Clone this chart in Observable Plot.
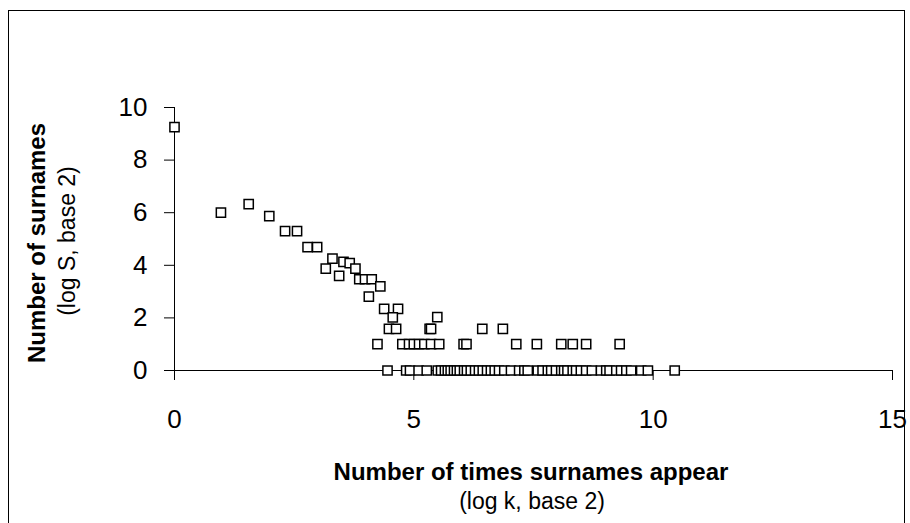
<!DOCTYPE html>
<html>
<head>
<meta charset="utf-8">
<script src="https://cdn.jsdelivr.net/npm/d3@7"></script>
<script src="https://cdn.jsdelivr.net/npm/@observablehq/plot@0.6"></script>
<style>
  html, body { margin: 0; padding: 0; background: #fff; }
  #wrap { position: relative; width: 910px; height: 523px; overflow: hidden; }
  #frame { position: absolute; left: 8px; top: 10px; width: 897px; height: 530px; border: 1px solid #000; box-sizing: border-box; pointer-events: none; }
  #wrap svg { position: absolute; left: 0; top: 0; }
</style>
</head>
<body>
<div id="wrap"><div id="frame"></div></div>
<script>
// Individual points (log2 k, log2 S) with S > 3
const upperLogK = [0, 0.97, 1.55, 1.98, 2.31, 2.56, 2.78, 2.98, 3.16, 3.3, 3.44, 3.53, 3.66, 3.78, 3.86, 3.98, 4.12, 4.06, 4.3, 4.38, 4.67, 4.56, 5.49];
const upperLogS = [9.25, 6.0, 6.33, 5.87, 5.3, 5.3, 4.69, 4.69, 3.87, 4.25, 3.6, 4.13, 4.08, 3.87, 3.47, 3.47, 3.47, 2.81, 3.2, 2.34, 2.34, 2.02, 2.03];
// Rows: log2 S = log2(3), 1 (S=2), 0 (S=1)
const rowS3LogK = [4.48, 4.63, 5.33, 5.36, 6.43, 6.86];
const rowS2LogK = [4.24, 4.76, 4.9, 5.0, 5.11, 5.22, 5.36, 5.53, 6.04, 6.1, 7.14, 7.57, 8.08, 8.32, 8.6, 9.3];
const rowS1LogK = [4.45, 4.84, 4.92, 5.1, 5.27, 5.5, 5.57, 5.65, 5.71, 5.77, 5.84, 5.9, 5.96, 6.05, 6.11, 6.19, 6.28, 6.36, 6.44, 6.53, 6.61, 6.69, 6.78, 6.89, 7.03, 7.2, 7.31, 7.38, 7.59, 7.69, 7.8, 7.87, 7.97, 8.08, 8.14, 8.21, 8.32, 8.39, 8.49, 8.6, 8.72, 8.91, 9.02, 9.09, 9.23, 9.33, 9.44, 9.54, 9.75, 9.89, 10.45];
const xTicks = [0, 5, 10, 15];
const yTicks = [0, 2, 4, 6, 8, 10];
const xTitle = "Number of times surnames appear";
const xSub = "(log k, base 2)";
const yTitle = "Number of surnames";
const ySub = "(log S, base 2)";

const points = [
  ...upperLogK.map((k, i) => ({x: k, y: upperLogS[i]})),
  ...rowS3LogK.map(k => ({x: k, y: Math.log2(3)})),
  ...rowS2LogK.map(k => ({x: k, y: 1})),
  ...rowS1LogK.map(k => ({x: k, y: 0}))
];

const font = "'Liberation Sans', Arial, sans-serif";
const chart = Plot.plot({
  width: 910,
  height: 523,
  marginLeft: 174,
  marginRight: 18,
  marginTop: 107,
  marginBottom: 153,
  style: {fontFamily: font, background: "transparent", color: "#000", overflow: "visible"},
  x: {domain: [0, 15]},
  y: {domain: [0, 10]},
  marks: [
    Plot.ruleY([0], {stroke: "#000", strokeWidth: 1}),
    Plot.ruleX([0], {y1: 0, y2: 10, stroke: "#000", strokeWidth: 1}),
    Plot.axisX({ticks: xTicks, tickSize: 10, tickPadding: 29, fontSize: 26, label: null, stroke: "#000"}),
    Plot.axisY({ticks: yTicks, tickSize: 10, tickPadding: 17, fontSize: 26, label: null, stroke: "#000"}),
    Plot.dot(points, {x: "x", y: "y", symbol: "square", r: 5.2, fill: "#fff", stroke: "#000", strokeWidth: 1.5})
  ]
});
document.getElementById("wrap").prepend(chart);

const svg = d3.select(chart);
const g = svg.append("g").attr("font-family", font).attr("fill", "#000");
g.append("text").attr("x", 531).attr("y", 480).attr("text-anchor", "middle")
  .attr("font-size", 24).attr("font-weight", "bold").text(xTitle);
g.append("text").attr("x", 532).attr("y", 509).attr("text-anchor", "middle")
  .attr("font-size", 23).text(xSub);
g.append("text").attr("transform", "translate(45,243) rotate(-90)").attr("text-anchor", "middle")
  .attr("font-size", 24).attr("font-weight", "bold").text(yTitle);
g.append("text").attr("transform", "translate(75,241) rotate(-90)").attr("text-anchor", "middle")
  .attr("font-size", 23).text(ySub);
</script>
</body>
</html>
